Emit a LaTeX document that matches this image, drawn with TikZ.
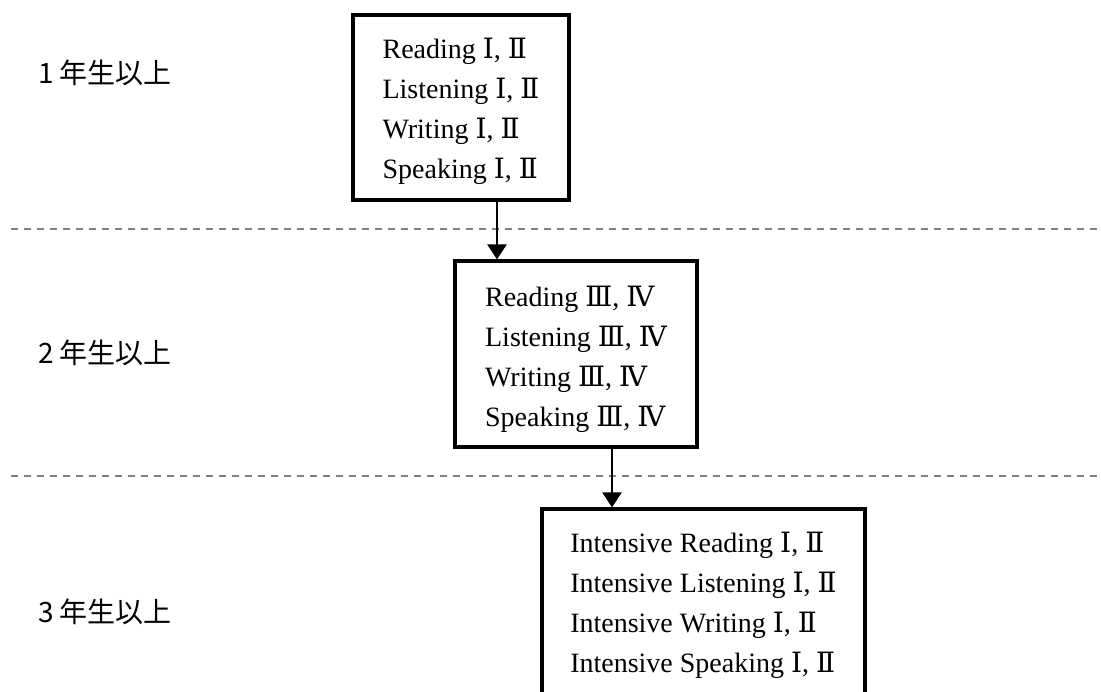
\documentclass[tikz,border=0pt]{standalone}
\usepackage{fontspec}
\setmainfont{Liberation Serif}
\newfontfamily\jp{Noto Sans CJK JP}
\newfontfamily\rn{DejaVu Serif}
\usetikzlibrary{arrows.meta,positioning}

\begin{document}
\begin{tikzpicture}[x=0.5pt,y=-0.5pt,
    course/.style={draw,line width=1.6pt,rectangle,align=left,inner xsep=2pt,text depth=3pt,font=\fontsize{14pt}{20pt}\selectfont},
    year/.style={anchor=west,font=\jp\fontsize{14pt}{16pt}\selectfont},
    level/.style={draw=gray,line width=0.7pt,dash pattern=on 3.5pt off 3pt},
    arr/.style={line width=1.2pt,-{Triangle[length=7.5pt,width=9.5pt]}}]
    \useasboundingbox (0,0) rectangle (1101,691);
    \clip (0,0) rectangle (1101,691);
    % levels
    \coordinate (l1a) at (11,229);
    \coordinate (l1b) at (1099,229);
    \coordinate (l2a) at (11,476);
    \coordinate (l2b) at (1099,476);
    \draw[level] (l1a) -- (l1b);
    \draw[level] (l2a) -- (l2b);
    % years
    \node[year] (y1) at (31,73) {1 年生以上};
    \node[year] (y2) at (31,353) {2 年生以上};
    \node[year] (y3) at (31,612) {3 年生以上};
    % courses
    \node[course,text height=73.5pt,minimum width=108pt,minimum height=92.5pt] (c1) at (461,107.5)
        {Reading {\rn Ⅰ}, {\rn Ⅱ}\\Listening {\rn Ⅰ}, {\rn Ⅱ}\\Writing {\rn Ⅰ}, {\rn Ⅱ}\\Speaking {\rn Ⅰ}, {\rn Ⅱ}};
    \node[course,text height=75pt,minimum width=121pt,minimum height=93pt] (c2) at (576,354)
        {Reading {\rn Ⅲ}, {\rn Ⅳ}\\Listening {\rn Ⅲ}, {\rn Ⅳ}\\Writing {\rn Ⅲ}, {\rn Ⅳ}\\Speaking {\rn Ⅲ}, {\rn Ⅳ}};
    \node[course,text height=72pt,minimum width=161.5pt,minimum height=94pt] (c3) at (703.5,603)
        {Intensive Reading {\rn Ⅰ}, {\rn Ⅱ}\\Intensive Listening {\rn Ⅰ}, {\rn Ⅱ}\\Intensive Writing {\rn Ⅰ}, {\rn Ⅱ}\\Intensive Speaking {\rn Ⅰ}, {\rn Ⅱ}};
    % arrows
    \coordinate (a1) at (497,0);
    \coordinate (a2) at (612,0);
    \draw[arr] (c1.south -| a1) -- (c2.north -| a1);
    \draw[arr] (c2.south -| a2) -- (c3.north -| a2);
\end{tikzpicture}
\end{document}
